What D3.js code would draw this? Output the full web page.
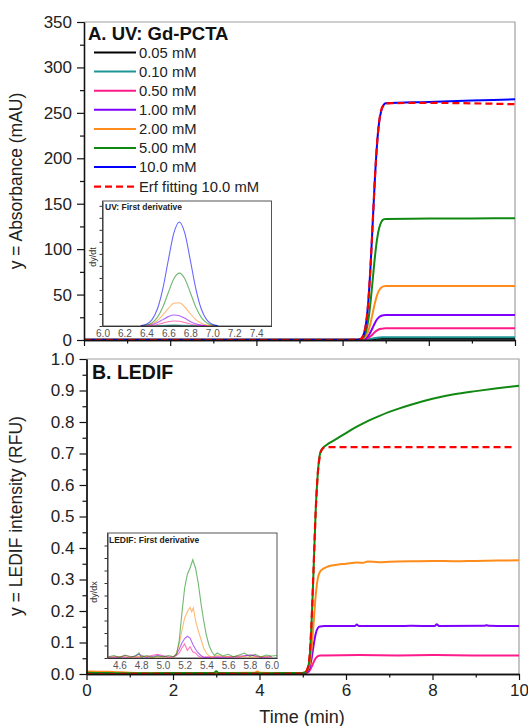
<!DOCTYPE html>
<html><head><meta charset="utf-8">
<script src="https://cdn.jsdelivr.net/npm/d3@7"></script>
<style>
html,body{margin:0;padding:0;background:#fff;}
text{font-family:"Liberation Sans",Arial,sans-serif;}
</style></head>
<body><svg id="c" width="528" height="726"></svg>
<script>
// ---------- Panel A data (UV absorbance, mAU) ----------
const timeUV = [0, 2, 4, 6, 6.35, 6.40, 6.45, 6.50, 6.55, 6.60, 6.65, 6.70, 6.75, 6.80, 6.85, 6.90, 6.95, 7.0, 8, 9, 10];
const uv005 = [0,0,0,0,0, 0.05,0.05,0.1,0.15,0.3,0.5,0.8,1.05,1.25,1.4,1.45,1.5,1.5,1.5,1.5,1.5];
const uv010 = [0.1,0.1,0.1,0.1,0.1, 0.1,0.1,0.2,0.3,0.6,1.0,1.6,2.1,2.5,2.8,2.9,3.0,3.0,3.0,3.0,3.0];
const uv050 = [0.1,0.1,0.1,0.1,0.1, 0.1,0.2,0.5,1.1,2.3,4.1,6.4,8.8,10.6,11.8,12.4,12.7,12.8,12.8,12.8,12.8];
const uv100 = [0.2,0.2,0.2,0.2,0.2, 0.3,0.4,1.0,2.3,4.8,8.8,13.8,18.8,22.8,25.4,26.7,27.3,27.5,27.5,27.6,27.6];
const uv200 = [0.6,0.5,0.5,0.5,0.5, 0.6,1.0,2.2,5.0,10.4,19.1,29.9,40.7,49.4,54.9,57.8,59.0,59.3,59.4,59.5,59.5];
const uv500 = [0.3,0.3,0.3,0.3,0.3, 0.6,1.4,4.1,10.5,22.9,42.6,67,91.5,111,123.5,130,132.7,133.3,133.6,133.8,134];
const uv1000 = [0.3,0.3,0.3,0.3,0.4, 0.8,2.5,7.7,20.2,44.6,82.8,130.4,178,216,240.5,253,258.5,260.5,262,263.5,265];
const uvFit = [0,0,0,0,0.1, 0.5,2.2,7.4,20,44.5,82.7,130.5,178.3,216.5,241,253.6,258.8,260.5,261,260.5,259.5];

const uvLabels = ["0.05 mM","0.10 mM","0.50 mM","1.00 mM","2.00 mM","5.00 mM","10.0 mM"];
const seriesColors = ["#000000","#1e9696","#ff1a8c","#8000ff","#ff8c1a","#118811","#0000ff"];
const fitLabel = "Erf fitting 10.0 mM";
const fitColor = "#ff0000";

// UV first derivative inset (arbitrary units)
const timeDer = [6.35,6.40,6.45,6.50,6.55,6.60,6.65,6.70,6.75,6.80,6.85,6.90,6.95,7.00,7.05];
const der005 = [0,0,0,1,2,3,3,3,2,1,1,0,0,0,0];
const der010 = [0,0,1,3,5,8,9,8,6,4,2,1,0,0,0];
const der050 = [1,2,6,13,24,36,42,39,29,17,8,3,1,0,0];
const der100 = [1,4,12,29,53,78,92,86,64,38,18,7,2,0,0];
const der200 = [1,6,18,45,92,147,189,193,158,102,53,22,7,2,0];
const der500 = [2,7,26,72,158,279,393,440,393,279,158,72,26,7,2];
const der1000 = [3,15,51,141,311,549,772,865,772,549,311,141,51,15,3];

// ---------- Panel B data (LEDIF, RFU) as [time, value] ----------
const led050 = [[0,0.001],[4,0.001],[5.0,0.001],[5.05,0.002],[5.10,0.004],[5.15,0.009],[5.20,0.021],[5.25,0.037],[5.30,0.05],[5.35,0.057],[5.40,0.059],[5.5,0.059],[6.3,0.06],[7.2,0.059],[8.0,0.06],[9.0,0.059],[10,0.059]];
const led100 = [[0,0.002],[2,0.002],[4,0.002],[5.0,0.002],[5.05,0.003],[5.10,0.006],[5.15,0.016],[5.20,0.045],[5.25,0.09],[5.30,0.128],[5.35,0.146],[5.40,0.151],[5.5,0.152],[6.2,0.152],[6.25,0.157],[6.3,0.152],[7.2,0.152],[7.5,0.153],[8.05,0.152],[8.1,0.158],[8.15,0.152],[9.2,0.153],[9.25,0.155],[9.3,0.153],[10,0.152]];
const led200 = [[0,0.008],[0.5,0.007],[1,0.004],[1.5,0.003],[2,0.002],[3,0.003],[3.9,0.004],[3.95,0.008],[4.0,0.004],[4.5,0.003],[5.0,0.003],[5.05,0.006],[5.10,0.01],[5.15,0.025],[5.20,0.075],[5.25,0.16],[5.30,0.25],[5.35,0.305],[5.40,0.325],[5.45,0.332],[5.5,0.336],[5.6,0.342],[5.8,0.347],[6.0,0.350],[6.25,0.354],[6.4,0.353],[6.5,0.357],[6.75,0.355],[7.0,0.356],[7.5,0.358],[8.0,0.359],[8.5,0.358],[9.0,0.359],[9.5,0.360],[10,0.361]];
const led500 = [[0,0.004],[0.5,0.003],[1,0.002],[2,0.003],[2.95,0.003],[3.0,0.009],[3.05,0.003],[4,0.002],[4.5,0.003],[5.0,0.003],[5.05,0.005],[5.10,0.012],[5.15,0.04],[5.20,0.15],[5.25,0.33],[5.30,0.52],[5.35,0.64],[5.40,0.70],[5.45,0.715],[5.5,0.722],[5.6,0.732],[5.8,0.748],[6.0,0.765],[6.25,0.785],[6.5,0.803],[6.75,0.818],[7.0,0.832],[7.5,0.855],[8.0,0.874],[8.5,0.888],[9.0,0.898],[9.5,0.907],[10,0.915]];
const ledFit = [[0,0],[5.0,0.001],[5.05,0.004],[5.10,0.013],[5.15,0.045],[5.20,0.155],[5.25,0.335],[5.30,0.52],[5.35,0.64],[5.40,0.695],[5.45,0.714],[5.5,0.719],[5.6,0.72],[9.85,0.72]];

// LEDIF first derivative inset, [time, value]
const dled050 = [[4.5,0.04],[4.6,0.02],[4.65,0.1],[4.75,0.03],[4.85,0.06],[4.95,0.15],[5.05,0.04],[5.10,0.05],[5.125,0.1],[5.15,0.2],[5.175,0.4],[5.20,0.56],[5.225,0.3],[5.25,0.45],[5.275,0.25],[5.30,0.2],[5.325,0.08],[5.35,0.03],[5.4,0.05],[5.5,0.02],[5.6,0.06],[5.7,0.03],[5.8,0.12],[5.9,0.02],[6.0,0.05]];
const dled100 = [[4.5,0.02],[4.6,0.05],[4.7,0.01],[4.78,0.15],[4.85,0.02],[4.95,0.1],[5.05,0.03],[5.10,0.05],[5.125,0.15],[5.15,0.35],[5.175,0.6],[5.20,0.78],[5.225,0.87],[5.25,0.8],[5.275,0.55],[5.30,0.35],[5.325,0.2],[5.35,0.1],[5.375,0.03],[5.4,0.02],[5.5,0.05],[5.6,0.02],[5.7,0.07],[5.82,0.12],[5.9,0.03],[6.0,0.05]];
const dled200 = [[4.5,0.03],[4.6,0.06],[4.7,0.02],[4.8,0.08],[4.9,0.03],[5.0,0.05],[5.05,0.02],[5.10,0.05],[5.125,0.2],[5.15,0.55],[5.175,1.1],[5.20,1.6],[5.225,1.85],[5.25,2.02],[5.265,1.85],[5.28,2.0],[5.30,1.5],[5.325,1.1],[5.35,0.75],[5.375,0.4],[5.40,0.2],[5.425,0.08],[5.45,0.03],[5.5,0.1],[5.6,0.04],[5.7,0.08],[5.8,0.03],[5.9,0.06],[6.0,0.04]];
const dled500 = [[4.50,0.05],[4.55,0.10],[4.60,0.02],[4.65,0.12],[4.70,0.04],[4.75,0.08],[4.78,0.2],[4.80,0.03],[4.85,0.1],[4.90,0.02],[4.95,0.08],[5.00,0.05],[5.05,0.1],[5.10,0.05],[5.125,0.15],[5.15,0.7],[5.175,1.8],[5.20,2.8],[5.225,3.35],[5.25,3.6],[5.275,3.93],[5.30,3.6],[5.325,3.0],[5.35,2.2],[5.375,1.5],[5.40,0.9],[5.425,0.5],[5.45,0.25],[5.475,0.1],[5.50,0.2],[5.55,0.08],[5.60,0.15],[5.65,0.05],[5.70,0.12],[5.75,0.2],[5.80,0.06],[5.85,0.15],[5.90,0.04],[5.95,0.12],[6.00,0.08],[6.05,0.1]];

// tick values
const ticksUV = [0,50,100,150,200,250,300,350];
const ticksUVminor = [25,75,125,175,225,275,325];
const ticksLED = [0,0.1,0.2,0.3,0.4,0.5,0.6,0.7,0.8,0.9,1.0];
const ticksLEDminor = [0.05,0.15,0.25,0.35,0.45,0.55,0.65,0.75,0.85,0.95];
const ticksTime = [0,2,4,6,8,10];
const ticksTimeMinor = [1,3,5,7,9];
const ticksInsetUV = [6.0,6.2,6.4,6.6,6.8,7.0,7.2,7.4];
const ticksInsetLED = [4.6,4.8,5.0,5.2,5.4,5.6,5.8,6.0];

// ---------- drawing ----------
const svg = d3.select("#c");
svg.append("rect").attr("width",528).attr("height",726).attr("fill","#fff");

const xA = d3.scaleLinear([0,10],[84,515]);
const yA = d3.scaleLinear([0,350],[340,22]);
const xB = d3.scaleLinear([0,10],[86.5,519]);
const yB = d3.scaleLinear([0,1],[674,359]);

function frame(x, y) {
  const [x0,x1] = x.range(), [y0,y1] = y.range();
  svg.append("path").attr("d",`M${x0},${y1}H${x1}V${y0}`).attr("fill","none").attr("stroke","#a0a0a0").attr("stroke-width",1.2);
}
frame(xA,yA); frame(xB,yB);

function styleAxis(g, size) {
  g.selectAll("text").attr("font-size",size).attr("fill","#222").attr("font-family","'Liberation Sans',Arial,sans-serif");
  g.select(".domain").attr("stroke","#111").attr("stroke-width",1.3);
  g.selectAll(".tick line").attr("stroke","#111").attr("stroke-width",1.2);
}
function yAxes(x, y, major, minor, fmt) {
  const gx = x.range()[0];
  const g = svg.append("g").attr("transform",`translate(${gx},0)`)
    .call(d3.axisLeft(y).tickValues(major).tickSize(7).tickSizeOuter(0).tickPadding(5).tickFormat(fmt));
  styleAxis(g,17);
  const gm = svg.append("g").attr("transform",`translate(${gx},0)`)
    .call(d3.axisLeft(y).tickValues(minor).tickSize(4).tickSizeOuter(0).tickFormat(""));
  styleAxis(gm,17);
}
function xAxes(x, y, labels) {
  const gy = y.range()[0];
  const g = svg.append("g").attr("transform",`translate(0,${gy})`)
    .call(d3.axisBottom(x).tickValues(ticksTime).tickSize(6).tickSizeOuter(0).tickPadding(4).tickFormat(labels ? d3.format("d") : ""));
  styleAxis(g,17);
  const gm = svg.append("g").attr("transform",`translate(0,${gy})`)
    .call(d3.axisBottom(x).tickValues(ticksTimeMinor).tickSize(3.5).tickSizeOuter(0).tickFormat(""));
  styleAxis(gm,17);
}

// Panel A curves
const lineA = d3.line().x(d=>xA(d[0])).y(d=>yA(d[1])).curve(d3.curveMonotoneX);
const uvSets = [uv005,uv010,uv050,uv100,uv200,uv500,uv1000];
uvSets.forEach((vals,i)=>{
  svg.append("path").datum(timeUV.map((t,j)=>[t,vals[j]]))
    .attr("d",lineA).attr("fill","none").attr("stroke",seriesColors[i]).attr("stroke-width",2);
});
svg.append("path").datum(timeUV.map((t,j)=>[t,uvFit[j]]))
  .attr("d",lineA).attr("fill","none").attr("stroke",fitColor).attr("stroke-width",2.2).attr("stroke-dasharray","7,4");

yAxes(xA,yA,ticksUV,ticksUVminor,d3.format("d"));
xAxes(xA,yA,false);

// Panel A title & legend
svg.append("text").attr("x",88).attr("y",39.5).attr("font-size",18.5).attr("font-weight","bold").attr("fill","#111").text("A. UV: Gd-PCTA");
const legY0 = 52.5, legStep = 19.1;
uvLabels.forEach((lab,i)=>{
  const yy = legY0 + i*legStep;
  svg.append("line").attr("x1",94).attr("x2",136).attr("y1",yy).attr("y2",yy).attr("stroke",seriesColors[i]).attr("stroke-width",2);
  svg.append("text").attr("x",139).attr("y",yy).attr("dy","0.36em").attr("font-size",14.8).attr("fill","#222").text(lab);
});
{
  const yy = legY0 + uvLabels.length*legStep + 0.5;
  svg.append("line").attr("x1",94).attr("x2",136).attr("y1",yy).attr("y2",yy).attr("stroke",fitColor).attr("stroke-width",2.2).attr("stroke-dasharray","7,4");
  svg.append("text").attr("x",139).attr("y",yy).attr("dy","0.36em").attr("font-size",14.8).attr("fill","#222").text(fitLabel);
}

// Panel A inset
const xI = d3.scaleLinear([6.0,7.54],[102.5,271.5]);
const yI = d3.scaleLinear([0,1040],[326,201]);
svg.append("rect").attr("x",xI.range()[0]).attr("y",yI.range()[1]).attr("width",xI.range()[1]-xI.range()[0]).attr("height",yI.range()[0]-yI.range()[1])
  .attr("fill","#fff").attr("stroke","#555").attr("stroke-width",1);
const lineI = d3.line().x(d=>xI(d[0])).y(d=>yI(d[1])).curve(d3.curveMonotoneX);
[der005,der010,der050,der100,der200,der500,der1000].forEach((vals,i)=>{
  svg.append("path").datum(timeDer.map((t,j)=>[t,vals[j]])).attr("d",lineI).attr("fill","none")
    .attr("stroke",seriesColors[i]).attr("stroke-opacity",0.6).attr("stroke-width",1.1);
});
{
  const g = svg.append("g").attr("transform",`translate(${xI.range()[0]},0)`)
    .call(d3.axisLeft(yI).tickValues(d3.range(0,1001,100)).tickSize(3).tickSizeOuter(0).tickFormat(""));
  g.select(".domain").attr("stroke","#333"); g.selectAll(".tick line").attr("stroke","#333");
  const gb = svg.append("g").attr("transform",`translate(0,${yI.range()[0]})`)
    .call(d3.axisBottom(xI).tickValues(ticksInsetUV).tickSize(0).tickSizeOuter(0).tickPadding(4).tickFormat(d3.format(".1f")));
  gb.select(".domain").attr("stroke","#333");
  gb.selectAll("text").attr("font-size",10).attr("fill","#555").attr("font-family","'Liberation Sans',Arial,sans-serif");
  svg.append("text").attr("x",105).attr("y",210).attr("font-size",8.5).attr("font-weight","bold").attr("fill","#222").text("UV: First derivative");
  svg.append("text").attr("transform","translate(96,257) rotate(-90)").attr("text-anchor","middle").attr("font-size",9).attr("fill","#333").text("dy/dt");
}

// Panel B curves
const lineB = d3.line().x(d=>xB(d[0])).y(d=>yB(d[1])).curve(d3.curveMonotoneX);
[[led050,2],[led100,3],[led200,4],[led500,5]].forEach(([data,ci])=>{
  svg.append("path").datum(data).attr("d",lineB).attr("fill","none").attr("stroke",seriesColors[ci]).attr("stroke-width",2);
});
svg.append("path").datum(ledFit).attr("d",lineB).attr("fill","none").attr("stroke",fitColor).attr("stroke-width",2.2).attr("stroke-dasharray","7,4");

yAxes(xB,yB,ticksLED,ticksLEDminor,d3.format(".1f"));
xAxes(xB,yB,true);

svg.append("text").attr("x",92).attr("y",379).attr("font-size",19.5).attr("font-weight","bold").attr("fill","#111").text("B. LEDIF");

// Panel B inset
const xJ = d3.scaleLinear([4.49,6.05],[107.5,277]);
const yJ = d3.scaleLinear([0,5],[658,533]);
svg.append("rect").attr("x",xJ.range()[0]).attr("y",yJ.range()[1]).attr("width",xJ.range()[1]-xJ.range()[0]).attr("height",yJ.range()[0]-yJ.range()[1])
  .attr("fill","#fff").attr("stroke","#555").attr("stroke-width",1);
const lineJ = d3.line().x(d=>xJ(d[0])).y(d=>yJ(d[1]));
[[dled050,2],[dled100,3],[dled200,4],[dled500,5]].forEach(([data,ci])=>{
  svg.append("path").datum(data).attr("d",lineJ).attr("fill","none").attr("stroke",seriesColors[ci]).attr("stroke-opacity",0.6).attr("stroke-width",1.1);
});
{
  const g = svg.append("g").attr("transform",`translate(${xJ.range()[0]},0)`)
    .call(d3.axisLeft(yJ).tickValues(d3.range(0,4.6,0.5)).tickSize(3).tickSizeOuter(0).tickFormat(""));
  g.select(".domain").attr("stroke","#333"); g.selectAll(".tick line").attr("stroke","#333");
  const gb = svg.append("g").attr("transform",`translate(0,${yJ.range()[0]})`)
    .call(d3.axisBottom(xJ).tickValues(ticksInsetLED).tickSize(0).tickSizeOuter(0).tickPadding(3.5).tickFormat(d3.format(".1f")));
  gb.select(".domain").attr("stroke","#333");
  gb.selectAll("text").attr("font-size",10).attr("fill","#555").attr("font-family","'Liberation Sans',Arial,sans-serif");
  svg.append("text").attr("x",109).attr("y",543).attr("font-size",8.5).attr("font-weight","bold").attr("fill","#222").text("LEDIF: First derivative");
  svg.append("text").attr("transform","translate(97,592) rotate(-90)").attr("text-anchor","middle").attr("font-size",9).attr("fill","#333").text("dy/dx");
}

// Axis titles
svg.append("text").attr("transform","translate(16,181) rotate(-90)").attr("text-anchor","middle").attr("dy","0.35em").attr("font-size",17.5).attr("fill","#222").text("y = Absorbance (mAU)");
svg.append("text").attr("transform","translate(16,516) rotate(-90)").attr("text-anchor","middle").attr("dy","0.35em").attr("font-size",17.5).attr("fill","#222").text("y = LEDIF intensity (RFU)");
svg.append("text").attr("x",302).attr("y",723).attr("text-anchor","middle").attr("font-size",18).attr("fill","#222").text("Time (min)");
</script></body></html>
